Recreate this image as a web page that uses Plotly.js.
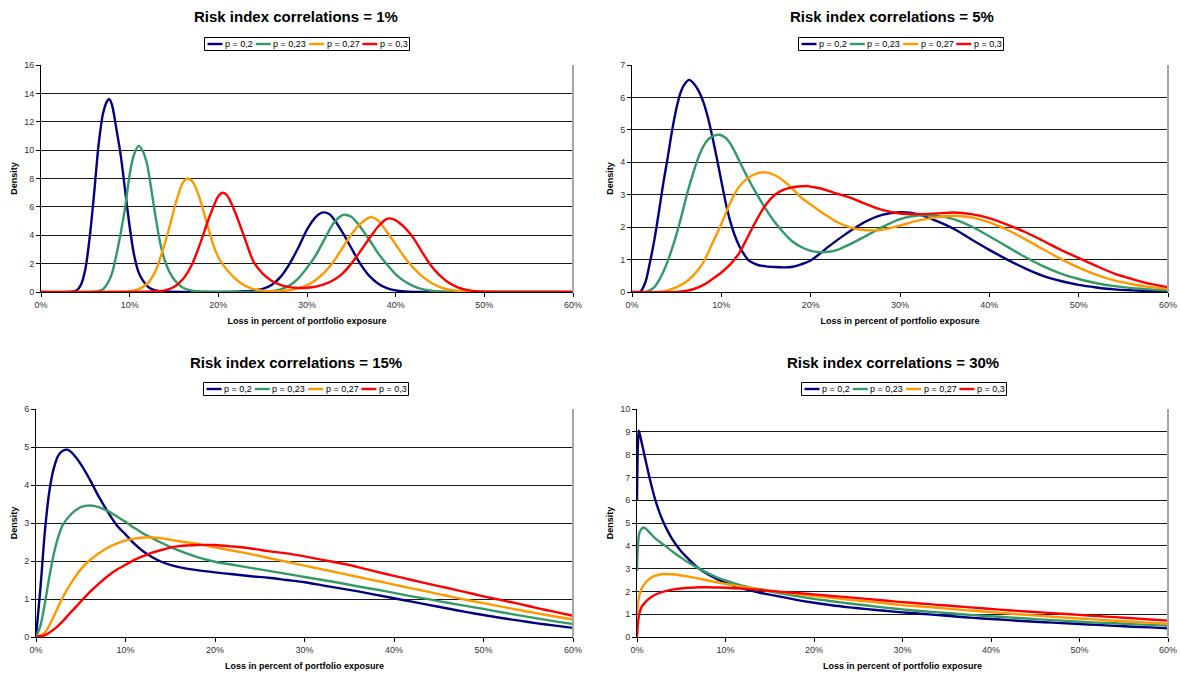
<!DOCTYPE html>
<html>
<head>
<meta charset="utf-8">
<script src="https://cdn.plot.ly/plotly-3.0.1.min.js"></script>
<style>
  html, body { margin: 0; padding: 0; background: #fff; }
  #chart { width: 1181px; height: 673px; }
</style>
</head>
<body>
<div id="chart"></div>
<script>
// ---------------- DATA ----------------
const seriesNames = ['p = 0,2', 'p = 0,23', 'p = 0,27', 'p = 0,3'];
const seriesColors = ['#000080', '#339966', '#FF9900', '#FF0000'];
const panelTitles = ['Risk index correlations = 1%', 'Risk index correlations = 5%',
                     'Risk index correlations = 15%', 'Risk index correlations = 30%'];
const xTickVals = [0, 10, 20, 30, 40, 50, 60];
const xTickText = ['0%', '10%', '20%', '30%', '40%', '50%', '60%'];
const xTitle = 'Loss in percent of portfolio exposure';
const yTitle = 'Density';

// Panel 1 : correlations = 1%
const p1BlueX = [0, 3, 4, 4.5, 5, 5.5, 6, 6.5, 7, 7.5, 7.7, 8, 8.5, 9, 9.5, 10, 10.5, 11, 11.5, 12, 12.5, 13, 14, 16, 18, 20, 22, 23, 24, 25, 26, 27, 28, 29, 30, 31, 31.8, 32.5, 33, 34, 35, 36, 37, 38, 39, 40, 41, 42, 44, 50, 60];
const p1BlueY = [0, 0, 0.1, 0.5, 1.6, 3.9, 7.0, 10.4, 12.6, 13.5, 13.6, 13.2, 11.5, 9.6, 7.1, 4.6, 2.6, 1.4, 0.8, 0.42, 0.2, 0.1, 0.03, 0.01, 0.01, 0.01, 0.02, 0.05, 0.1, 0.22, 0.5, 1.05, 1.95, 3.1, 4.4, 5.3, 5.61, 5.5, 5.16, 4.2, 3.1, 2.0, 1.15, 0.6, 0.27, 0.11, 0.04, 0.01, 0, 0, 0];
const p1GreenX = [0, 6, 7, 7.5, 8, 8.5, 9, 9.5, 10, 10.5, 11, 11.5, 12, 12.5, 13, 13.5, 14, 14.5, 15, 15.5, 16, 17, 18, 20, 22, 24, 25, 26, 27, 28, 29, 30, 31, 32, 33, 34, 34.3, 35, 36, 37, 38, 39, 40, 41, 42, 43, 44, 45, 46, 48, 60];
const p1GreenY = [0, 0.02, 0.2, 0.6, 1.3, 2.6, 4.2, 6.0, 8.3, 9.7, 10.3, 9.9, 8.9, 7.0, 5.0, 3.3, 2.15, 1.4, 0.9, 0.55, 0.3, 0.1, 0.03, 0.01, 0.01, 0.01, 0.02, 0.06, 0.18, 0.45, 0.95, 1.7, 2.6, 3.75, 4.85, 5.42, 5.45, 5.3, 4.6, 3.7, 2.75, 1.95, 1.25, 0.75, 0.42, 0.2, 0.09, 0.03, 0.01, 0, 0];
const p1OrangeX = [0, 9, 10, 11, 12, 12.5, 13, 13.5, 14, 14.5, 15, 15.5, 16, 16.5, 17, 17.5, 18, 18.5, 19, 19.5, 20, 20.5, 21, 21.5, 22, 22.5, 23, 24, 25, 26, 27, 28, 29, 30, 31, 32, 33, 34, 35, 36, 37, 37.3, 38, 39, 40, 41, 42, 43, 44, 45, 46, 47, 48, 50, 60];
const p1OrangeY = [0, 0.02, 0.05, 0.2, 0.6, 1.0, 1.6, 2.5, 3.5, 4.6, 5.8, 6.9, 7.7, 8.0, 7.85, 7.3, 6.4, 5.3, 4.2, 3.2, 2.45, 1.95, 1.55, 1.2, 0.9, 0.65, 0.45, 0.2, 0.1, 0.05, 0.05, 0.12, 0.25, 0.48, 0.85, 1.4, 2.15, 3.1, 4.05, 4.8, 5.25, 5.28, 5.05, 4.25, 3.35, 2.45, 1.7, 1.1, 0.65, 0.35, 0.17, 0.08, 0.03, 0, 0];
const p1RedX = [0, 12, 13, 14, 15, 16, 17, 18, 19, 20, 20.5, 21, 22, 23, 24, 25, 26, 27, 28, 29, 30, 31, 32, 33, 34, 35, 36, 37, 38, 39, 39.3, 40, 41, 42, 43, 44, 45, 46, 47, 48, 49, 50, 52, 60];
const p1RedY = [0, 0.02, 0.05, 0.12, 0.35, 0.9, 1.9, 3.5, 5.3, 6.75, 7.0, 6.8, 5.45, 3.75, 2.1, 1.3, 0.8, 0.5, 0.34, 0.28, 0.3, 0.38, 0.55, 0.85, 1.3, 2.0, 2.85, 3.75, 4.6, 5.15, 5.19, 5.05, 4.55, 3.8, 2.8, 1.85, 1.15, 0.65, 0.33, 0.15, 0.06, 0.02, 0.01, 0];

// Panel 2 : correlations = 5%
const p2BlueX = [0, 0.9, 1.5, 2, 2.5, 3, 3.5, 4, 4.5, 5, 5.5, 6, 6.4, 7, 7.5, 8, 8.5, 9, 9.5, 10, 10.5, 11, 11.5, 12, 12.5, 13, 13.5, 14, 15, 16, 17, 18, 19, 20, 22, 24, 26, 28, 30, 32, 34, 36, 38, 40, 42, 44, 46, 48, 50, 52, 54, 56, 58, 60];
const p2BlueY = [0, 0, 0.3, 0.9, 1.6, 2.45, 3.35, 4.15, 5.0, 5.7, 6.2, 6.45, 6.54, 6.4, 6.18, 5.85, 5.38, 4.78, 4.12, 3.42, 2.74, 2.18, 1.75, 1.42, 1.18, 0.99, 0.9, 0.84, 0.79, 0.77, 0.76, 0.78, 0.86, 0.97, 1.4, 1.8, 2.15, 2.38, 2.46, 2.4, 2.2, 1.95, 1.62, 1.3, 1.0, 0.73, 0.5, 0.34, 0.22, 0.14, 0.08, 0.05, 0.03, 0.02];
const p2GreenX = [0, 1.5, 2, 2.5, 3, 3.5, 4, 4.5, 5, 5.5, 6, 6.5, 7, 7.5, 8, 8.5, 9, 9.8, 10.5, 11, 11.5, 12, 13, 14, 15, 16, 17, 18, 19, 20, 21, 22, 23, 24, 26, 28, 30, 32, 34, 36, 38, 40, 42, 44, 46, 48, 50, 52, 54, 56, 58, 60];
const p2GreenY = [0, 0, 0.05, 0.15, 0.35, 0.62, 0.95, 1.35, 1.8, 2.3, 2.85, 3.35, 3.8, 4.2, 4.5, 4.7, 4.8, 4.85, 4.75, 4.58, 4.33, 4.05, 3.5, 3.0, 2.55, 2.15, 1.82, 1.55, 1.38, 1.27, 1.23, 1.24, 1.3, 1.42, 1.7, 2.0, 2.25, 2.36, 2.35, 2.25, 2.02, 1.72, 1.4, 1.08, 0.8, 0.57, 0.4, 0.27, 0.18, 0.12, 0.08, 0.05];
const p2OrangeX = [0, 3, 4, 5, 6, 7, 8, 9, 10, 11, 12, 13, 14, 15, 16, 17, 18, 19, 20, 21, 22, 23, 24, 25, 26, 27, 28, 30, 32, 34, 36, 38, 40, 42, 44, 46, 48, 50, 52, 54, 56, 58, 60];
const p2OrangeY = [0, 0, 0.05, 0.15, 0.3, 0.55, 0.92, 1.5, 2.1, 2.75, 3.25, 3.52, 3.66, 3.69, 3.6, 3.42, 3.17, 2.9, 2.7, 2.5, 2.32, 2.15, 2.03, 1.95, 1.91, 1.9, 1.92, 2.05, 2.2, 2.3, 2.35, 2.3, 2.15, 1.92, 1.63, 1.32, 1.02, 0.75, 0.53, 0.36, 0.24, 0.15, 0.1];
const p2RedX = [0, 5, 6, 7, 8, 9, 10, 11, 12, 13, 14, 15, 16, 17, 18, 19, 19.6, 20, 21, 22, 23, 24, 25, 26, 28, 30, 32, 34, 36, 38, 40, 42, 44, 46, 48, 50, 52, 54, 56, 58, 60];
const p2RedY = [0, 0, 0.03, 0.1, 0.22, 0.4, 0.6, 0.85, 1.2, 1.72, 2.25, 2.7, 3.0, 3.16, 3.23, 3.26, 3.27, 3.25, 3.2, 3.12, 3.03, 2.95, 2.85, 2.73, 2.53, 2.42, 2.4, 2.42, 2.45, 2.4, 2.28, 2.08, 1.85, 1.58, 1.3, 1.05, 0.8, 0.57, 0.4, 0.25, 0.15];

// Panel 3 : correlations = 15%
const p3BlueX = [0, 0.5, 1, 1.5, 2, 2.5, 3, 3.5, 4, 5, 6, 7, 8, 9, 10, 11, 12, 13, 14, 15, 16, 18, 20, 22, 24, 26, 28, 30, 32, 34, 36, 38, 40, 42, 44, 46, 48, 50, 52, 54, 56, 58, 60];
const p3BlueY = [0, 1.3, 2.8, 3.85, 4.45, 4.78, 4.9, 4.93, 4.85, 4.55, 4.15, 3.7, 3.3, 2.95, 2.7, 2.45, 2.25, 2.1, 1.98, 1.9, 1.84, 1.76, 1.7, 1.65, 1.6, 1.56, 1.5, 1.44, 1.36, 1.28, 1.2, 1.11, 1.02, 0.93, 0.84, 0.75, 0.66, 0.58, 0.5, 0.43, 0.36, 0.3, 0.24];
const p3GreenX = [0, 0.5, 1, 1.5, 2, 2.5, 3, 4, 5, 6, 7, 8, 9, 10, 11, 12, 13, 14, 15, 16, 18, 20, 22, 24, 26, 28, 30, 32, 34, 36, 38, 40, 42, 44, 46, 48, 50, 52, 54, 56, 58, 60];
const p3GreenY = [0, 0.3, 0.9, 1.6, 2.2, 2.65, 2.95, 3.25, 3.42, 3.46, 3.42, 3.32, 3.18, 3.03, 2.87, 2.72, 2.6, 2.48, 2.37, 2.27, 2.1, 1.98, 1.9, 1.82, 1.74, 1.66, 1.58, 1.5, 1.42, 1.33, 1.25, 1.16, 1.07, 0.99, 0.9, 0.82, 0.74, 0.65, 0.57, 0.49, 0.41, 0.34];
const p3OrangeX = [0, 1, 2, 3, 4, 5, 6, 7, 8, 9, 10, 11, 12, 13, 14, 15, 16, 18, 20, 22, 24, 26, 28, 30, 32, 34, 36, 38, 40, 42, 44, 46, 48, 50, 52, 54, 56, 58, 60];
const p3OrangeY = [0, 0.12, 0.55, 1.05, 1.45, 1.78, 2.02, 2.2, 2.35, 2.46, 2.54, 2.59, 2.62, 2.62, 2.6, 2.56, 2.52, 2.45, 2.36, 2.27, 2.18, 2.08, 1.98, 1.88, 1.78, 1.68, 1.58, 1.48, 1.38, 1.28, 1.18, 1.08, 0.98, 0.89, 0.8, 0.71, 0.62, 0.54, 0.46];
const p3RedX = [0, 1, 2, 3, 4, 5, 6, 7, 8, 9, 10, 11, 12, 13, 14, 15, 16, 18, 20, 22, 24, 26, 28, 30, 32, 34, 36, 38, 40, 42, 44, 46, 48, 50, 52, 54, 56, 58, 60];
const p3RedY = [0, 0.05, 0.2, 0.42, 0.68, 0.93, 1.18, 1.4, 1.6, 1.77, 1.9, 2.03, 2.13, 2.22, 2.29, 2.35, 2.39, 2.42, 2.42, 2.38, 2.33, 2.26, 2.2, 2.12, 2.03, 1.94, 1.84, 1.72, 1.61, 1.5, 1.39, 1.29, 1.18, 1.07, 0.97, 0.87, 0.76, 0.66, 0.56];

// Panel 4 : correlations = 30%
const p4BlueX = [0, 0.1, 0.2, 0.4, 0.6, 0.8, 1, 1.5, 2, 2.5, 3, 3.5, 4, 4.5, 5, 6, 7, 8, 9, 10, 11, 12, 13, 14, 15, 16, 18, 20, 22, 24, 26, 28, 30, 32, 34, 36, 38, 40, 42, 44, 46, 48, 50, 52, 54, 56, 58, 60];
const p4BlueY = [6.0, 8.4, 9.05, 8.75, 8.4, 8.05, 7.7, 6.85, 6.1, 5.5, 5.02, 4.62, 4.28, 4.0, 3.75, 3.35, 3.0, 2.75, 2.55, 2.38, 2.24, 2.12, 2.02, 1.93, 1.86, 1.78, 1.63, 1.5, 1.39, 1.3, 1.22, 1.15, 1.08, 1.02, 0.96, 0.9, 0.84, 0.79, 0.74, 0.69, 0.65, 0.61, 0.57, 0.53, 0.49, 0.45, 0.42, 0.38];
const p4GreenX = [0, 0.1, 0.3, 0.7, 1, 1.5, 2, 3, 4, 5, 6, 7, 8, 9, 10, 11, 12, 13, 14, 15, 16, 18, 20, 22, 24, 26, 28, 30, 32, 34, 36, 38, 40, 42, 44, 46, 48, 50, 52, 54, 56, 58, 60];
const p4GreenY = [2.9, 4.0, 4.6, 4.8, 4.75, 4.55, 4.35, 4.05, 3.75, 3.47, 3.22, 3.0, 2.8, 2.62, 2.48, 2.35, 2.24, 2.15, 2.07, 2.0, 1.93, 1.8, 1.67, 1.57, 1.47, 1.38, 1.29, 1.21, 1.14, 1.08, 1.02, 0.96, 0.91, 0.86, 0.81, 0.76, 0.72, 0.67, 0.63, 0.6, 0.56, 0.53, 0.5];
const p4OrangeX = [0, 0.2, 0.5, 1, 1.5, 2, 3, 4, 5, 6, 7, 8, 9, 10, 12, 14, 16, 18, 20, 22, 24, 26, 28, 30, 32, 34, 36, 38, 40, 42, 44, 46, 48, 50, 52, 54, 56, 58, 60];
const p4OrangeY = [1.0, 1.7, 2.1, 2.4, 2.58, 2.68, 2.76, 2.75, 2.7, 2.64, 2.56, 2.48, 2.4, 2.33, 2.2, 2.09, 1.98, 1.89, 1.8, 1.72, 1.63, 1.56, 1.48, 1.4, 1.34, 1.28, 1.21, 1.15, 1.09, 1.03, 0.97, 0.92, 0.86, 0.81, 0.76, 0.71, 0.67, 0.62, 0.58];
const p4RedX = [0, 0.2, 0.5, 1, 1.5, 2, 3, 4, 5, 6, 7, 8, 9, 10, 12, 14, 16, 18, 20, 22, 24, 26, 28, 30, 32, 34, 36, 38, 40, 42, 44, 46, 48, 50, 52, 54, 56, 58, 60];
const p4RedY = [0, 0.9, 1.3, 1.55, 1.72, 1.84, 1.99, 2.08, 2.13, 2.16, 2.18, 2.18, 2.17, 2.16, 2.12, 2.06, 1.99, 1.93, 1.87, 1.8, 1.74, 1.67, 1.6, 1.53, 1.47, 1.41, 1.35, 1.29, 1.23, 1.17, 1.12, 1.07, 1.02, 0.97, 0.92, 0.87, 0.82, 0.77, 0.72];

const yRanges = [[0, 16], [0, 7], [0, 6], [0, 10]];
const yDticks = [2, 1, 1, 1];

// ---------------- BUILD ----------------
const panels = [
  [[p1BlueX, p1BlueY], [p1GreenX, p1GreenY], [p1OrangeX, p1OrangeY], [p1RedX, p1RedY]],
  [[p2BlueX, p2BlueY], [p2GreenX, p2GreenY], [p2OrangeX, p2OrangeY], [p2RedX, p2RedY]],
  [[p3BlueX, p3BlueY], [p3GreenX, p3GreenY], [p3OrangeX, p3OrangeY], [p3RedX, p3RedY]],
  [[p4BlueX, p4BlueY], [p4GreenX, p4GreenY], [p4OrangeX, p4OrangeY], [p4RedX, p4RedY]]
];

const W = 1181, H = 673;
// plot-area pixel boxes [left, right, top, bottom]
const boxes = [[41, 573, 65, 292], [632, 1168, 65, 292], [36, 573, 409, 637], [637, 1168, 409, 637]];
const titlePos = [[296, 16], [892, 16], [296, 362], [893, 362]];
const legendPos = [[307, 37], [901, 37], [306, 382], [904, 382]];

const FONT = 'Arial, "Liberation Sans", Helvetica, sans-serif';
const LEG_FONT_SIZE = 9;
const traces = [];
const layout = {
  width: W, height: H,
  margin: {l: 0, r: 0, t: 0, b: 0},
  paper_bgcolor: '#ffffff', plot_bgcolor: '#ffffff',
  font: {family: FONT, size: 9, color: '#000'},
  showlegend: false,
  annotations: [], shapes: []
};

// text width measurement for the legend layout
const measureCtx = document.createElement('canvas').getContext('2d');
function textWidth(str) {
  measureCtx.font = LEG_FONT_SIZE + 'px ' + FONT;
  return measureCtx.measureText(str).width;
}
const px = v => v / W;          // pixel -> paper x
const py = v => 1 - v / H;      // pixel -> paper y

panels.forEach((series, i) => {
  const k = i === 0 ? '' : String(i + 1);
  const [l, r, t, b] = boxes[i];
  series.forEach((s, j) => {
    traces.push({
      type: 'scatter', mode: 'lines',
      x: s[0], y: s[1],
      name: seriesNames[j],
      xaxis: 'x' + k, yaxis: 'y' + k,
      line: {color: seriesColors[j], width: 2.4, shape: 'spline', smoothing: 0.8},
      cliponaxis: false,
      hoverinfo: 'skip'
    });
  });
  layout['xaxis' + k] = {
    domain: [px(l), px(r)], anchor: 'y' + k,
    range: [0, 60], tickvals: xTickVals, ticktext: xTickText,
    showgrid: false, zeroline: false,
    showline: true, linecolor: '#000', linewidth: 1,
    ticks: 'outside', ticklen: 4, tickcolor: '#000',
    tickfont: {size: 9, color: '#333'},
    layer: 'below traces',
    title: {text: '<b>' + xTitle + '</b>', font: {size: 9, color: '#000'}, standoff: 8},
    fixedrange: true
  };
  layout['yaxis' + k] = {
    domain: [py(b), py(t)], anchor: 'x' + k,
    range: yRanges[i], dtick: yDticks[i],
    showgrid: true, gridcolor: '#1a1a1a', gridwidth: 1,
    zeroline: false,
    showline: true, linecolor: '#000', linewidth: 1,
    ticks: 'outside', ticklen: 4, tickcolor: '#000',
    tickfont: {size: 9, color: '#333'},
    layer: 'below traces',
    title: {text: '<b>' + yTitle + '</b>', font: {size: 9, color: '#000'}, standoff: 5},
    fixedrange: true
  };
  // panel title
  layout.annotations.push({
    xref: 'paper', yref: 'paper',
    x: px(titlePos[i][0]), y: py(titlePos[i][1]),
    xanchor: 'center', yanchor: 'middle',
    text: '<b>' + panelTitles[i] + '</b>',
    font: {size: 15, color: '#000'},
    showarrow: false
  });
  // grey right border of the plot area
  layout.shapes.push({
    type: 'line', xref: 'x' + k + ' domain', yref: 'y' + k + ' domain',
    x0: 1, x1: 1, y0: 0, y1: 1,
    line: {color: '#a6a6a6', width: 2}, layer: 'above'
  });

  // compact Excel-style legend box: short line sample + label per series
  const lineLen = 15, gapTxt = 1.5, gapItem = 4, pad = 3, boxH = 13;
  const widths = seriesNames.map(textWidth);
  const totalW = pad * 2 + widths.reduce((a, w) => a + lineLen + gapTxt + w, 0) + gapItem * (seriesNames.length - 1);
  const cx = legendPos[i][0], top = legendPos[i][1];
  const left = Math.round(cx - totalW / 2) + 0.5;
  const midY = top + boxH / 2 + 0.5;
  layout.shapes.push({
    type: 'rect', xref: 'paper', yref: 'paper',
    x0: px(left), x1: px(left + Math.round(totalW)), y0: py(top + 0.5), y1: py(top + boxH + 0.5),
    line: {color: '#000', width: 1}, fillcolor: '#fff', layer: 'above'
  });
  let xc = left + pad;
  seriesNames.forEach((name, j) => {
    layout.shapes.push({
      type: 'line', xref: 'paper', yref: 'paper',
      x0: px(xc), x1: px(xc + lineLen), y0: py(midY), y1: py(midY),
      line: {color: seriesColors[j], width: 2.4}, layer: 'above'
    });
    layout.annotations.push({
      xref: 'paper', yref: 'paper',
      x: px(xc + lineLen + gapTxt), y: py(midY),
      xanchor: 'left', yanchor: 'middle',
      text: name, showarrow: false, borderpad: 0,
      font: {size: LEG_FONT_SIZE, color: '#000'}
    });
    xc += lineLen + gapTxt + widths[j] + gapItem;
  });
});

Plotly.newPlot('chart', traces, layout, {displayModeBar: false, staticPlot: true});
</script>
</body>
</html>
